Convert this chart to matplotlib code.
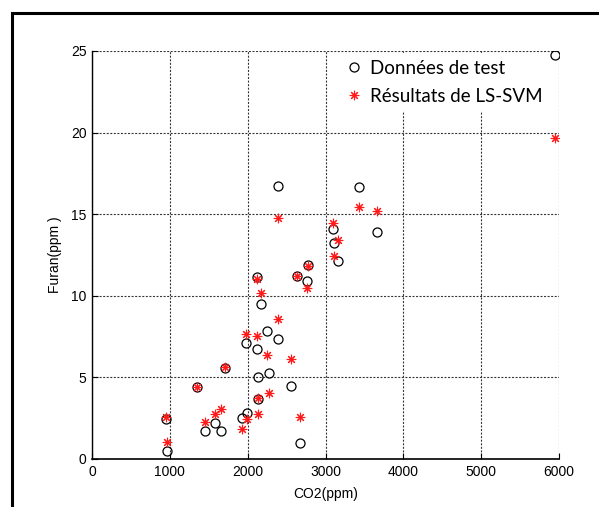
import numpy as np
import matplotlib
matplotlib.use('Agg')
import matplotlib.pyplot as plt
from matplotlib.patches import Rectangle

# CO2 concentration of each test sample (ppm)
co2 = [955, 968, 1349, 1456, 1585, 1653, 1712, 1928, 1975, 1996,
       2120, 2120, 2133, 2135, 2176, 2245, 2274, 2386, 2395, 2553,
       2630, 2677, 2759, 2776, 3091, 3106, 3166, 3427, 3659, 5950]

# measured furan (ppm)
furan_test = [2.43, 0.49, 4.39, 1.72, 2.21, 1.72, 5.58, 2.53, 7.13, 2.82,
              11.15, 6.72, 3.70, 5.04, 9.52, 7.82, 5.29, 16.75, 7.33, 4.47,
              11.21, 0.96, 10.91, 11.89, 14.09, 13.21, 12.13, 16.69, 13.93, 24.75]

# LS-SVM predicted furan (ppm)
furan_svm = [2.59, 1.06, 4.43, 2.29, 2.74, 3.04, 5.66, 1.82, 7.64, 2.43,
             11.01, 7.56, 3.74, 2.74, 10.15, 6.39, 4.02, 14.77, 8.58, 6.11,
             11.23, 2.55, 10.50, 11.83, 14.44, 12.44, 13.42, 15.42, 15.22, 19.65]

xticks = [0, 1000, 2000, 3000, 4000, 5000, 6000]
yticks = [0, 5, 10, 15, 20, 25]

plt.rcParams['font.family'] = ['Liberation Sans', 'DejaVu Sans']

fig = plt.figure(figsize=(5.99, 5.07), dpi=100)
ax = fig.add_axes([92/599, 48/507, 467/599, 408/507])

ax.plot(co2, furan_test, linestyle='none', marker='o', ms=6.5, mew=0.9,
        mec='black', mfc='none', label='Données de test', zorder=3)
ax.plot(co2, furan_svm, linestyle='none', marker=(8, 2, 0), ms=6.8, mew=0.8,
        color='#ff1a1a', label='Résultats de LS-SVM', zorder=4)

ax.set_xlim(0, 6000)
ax.set_ylim(0, 25)
ax.set_xticks(xticks)
ax.set_yticks(yticks)
ax.tick_params(direction='in', length=4, width=0.8, labelsize=10, pad=4,
               colors='black')
ax.grid(True, color='#333333', linewidth=0.8, linestyle=(0, (1.8, 1.4)))
ax.set_axisbelow(True)

for side in ['top', 'right']:
    ax.spines[side].set_visible(False)
ax.spines['left'].set_linewidth(1.0)
ax.spines['bottom'].set_linewidth(1.2)

ax.set_xlabel('CO2(ppm)', fontsize=10, labelpad=6)
ax.set_ylabel('Furan(ppm )', fontsize=10, labelpad=6)

leg = ax.legend(loc='upper left', bbox_to_anchor=(0.526, 0.995),
                borderaxespad=0, borderpad=0.35, handlelength=1.0,
                handletextpad=0.35, labelspacing=0.6, frameon=True,
                fancybox=False, framealpha=1.0,
                prop={'family': ['Lato', 'DejaVu Sans'], 'size': 13.5})
leg.get_frame().set_facecolor('white')
leg.get_frame().set_edgecolor('none')
leg.set_zorder(5)

# outer border, open to the right and bottom edges
fig.add_artist(Rectangle((12/599, -0.1), 1.0, 1.1 - 12.5/507,
                         transform=fig.transFigure, fill=False,
                         linewidth=2.2, edgecolor='black'))

fig.savefig('out.png', dpi=100)
